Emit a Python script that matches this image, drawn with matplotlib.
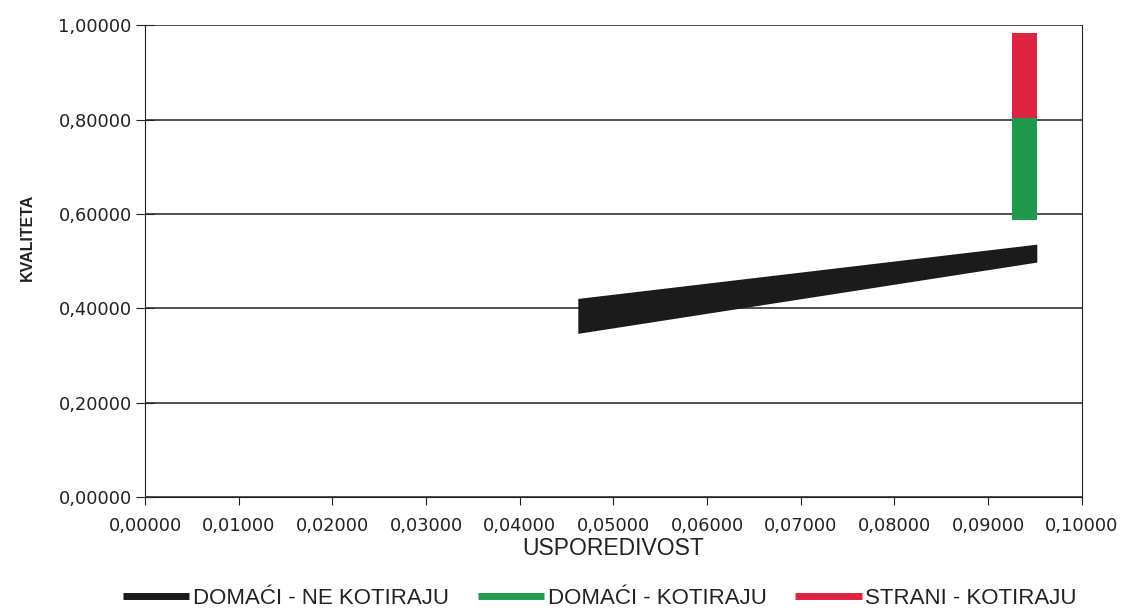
import numpy as np
import matplotlib.pyplot as plt
from matplotlib.lines import Line2D
from matplotlib.ticker import FuncFormatter

plt.rcParams['font.family'] = ['Liberation Sans', 'DejaVu Sans']

# Domaći - ne kotiraju: pojas (gornja i donja granica)
dom_ne_x = [0.0462, 0.0952]
dom_ne_gornja = [0.421, 0.536]
dom_ne_donja = [0.347, 0.498]

# Domaći - kotiraju i strani - kotiraju (uski vertikalni stupci)
dom_kot_x = 0.0939
dom_kot_od = 0.587
dom_kot_do = 0.803
str_kot_x = 0.0939
str_kot_od = 0.803
str_kot_do = 0.983

oznake = ["DOMAĆI - NE KOTIRAJU", "DOMAĆI - KOTIRAJU", "STRANI - KOTIRAJU"]
boje = ["#1b1b1b", "#1f9a4c", "#de2440"]

fig = plt.figure(figsize=(11.21, 6.13), dpi=100)
ax = fig.add_axes([0.1294, 0.189, 0.8356, 0.770])

ax.fill_between(dom_ne_x, dom_ne_donja, dom_ne_gornja, color=boje[0], lw=0, zorder=3)
ax.bar(dom_kot_x, dom_kot_do - dom_kot_od, bottom=dom_kot_od, width=0.0027,
       color=boje[1], zorder=3)
ax.bar(str_kot_x, str_kot_do - str_kot_od, bottom=str_kot_od, width=0.0027,
       color=boje[2], zorder=3)

ax.set_xlim(0, 0.1)
ax.set_ylim(0, 1)
ax.set_xticks(np.arange(0, 0.1001, 0.01))
ax.set_yticks(np.arange(0, 1.001, 0.2))
fmt = FuncFormatter(lambda v, p: f"{v:.5f}".replace(".", ","))
ax.xaxis.set_major_formatter(fmt)
ax.yaxis.set_major_formatter(fmt)
for lbl in ax.get_xticklabels() + ax.get_yticklabels():
    lbl.set_family('DejaVu Sans')
    lbl.set_fontsize(12.8)
ax.tick_params(axis='both', colors='#222222')
ax.tick_params(axis='y', direction='inout', length=13, pad=3)
ax.tick_params(axis='x', direction='out', length=6, pad=8)

ax.grid(axis='y', color='#222222', lw=1.1)
ax.set_axisbelow(True)
for s in ['left', 'bottom', 'right']:
    ax.spines[s].set_color('#222222')
ax.spines['top'].set_visible(False)

ax.set_xlabel("USPOREDIVOST", fontsize=16.5, labelpad=2, color='#222222')
ax.set_ylabel("KVALITETA", fontsize=11.5, fontweight='bold', color='#222222')
ax.yaxis.set_label_coords(-0.118, 0.55)

rucke = [Line2D([0], [0], color=b, lw=5, solid_capstyle='butt') for b in boje]
fig.legend(rucke, oznake, loc='center', bbox_to_anchor=(0.535, 0.024), ncol=3,
           frameon=False, fontsize=16, handlelength=3.0, handletextpad=0.15,
           columnspacing=1.3, labelcolor='#222222')

fig.savefig("out.png", dpi=100)
